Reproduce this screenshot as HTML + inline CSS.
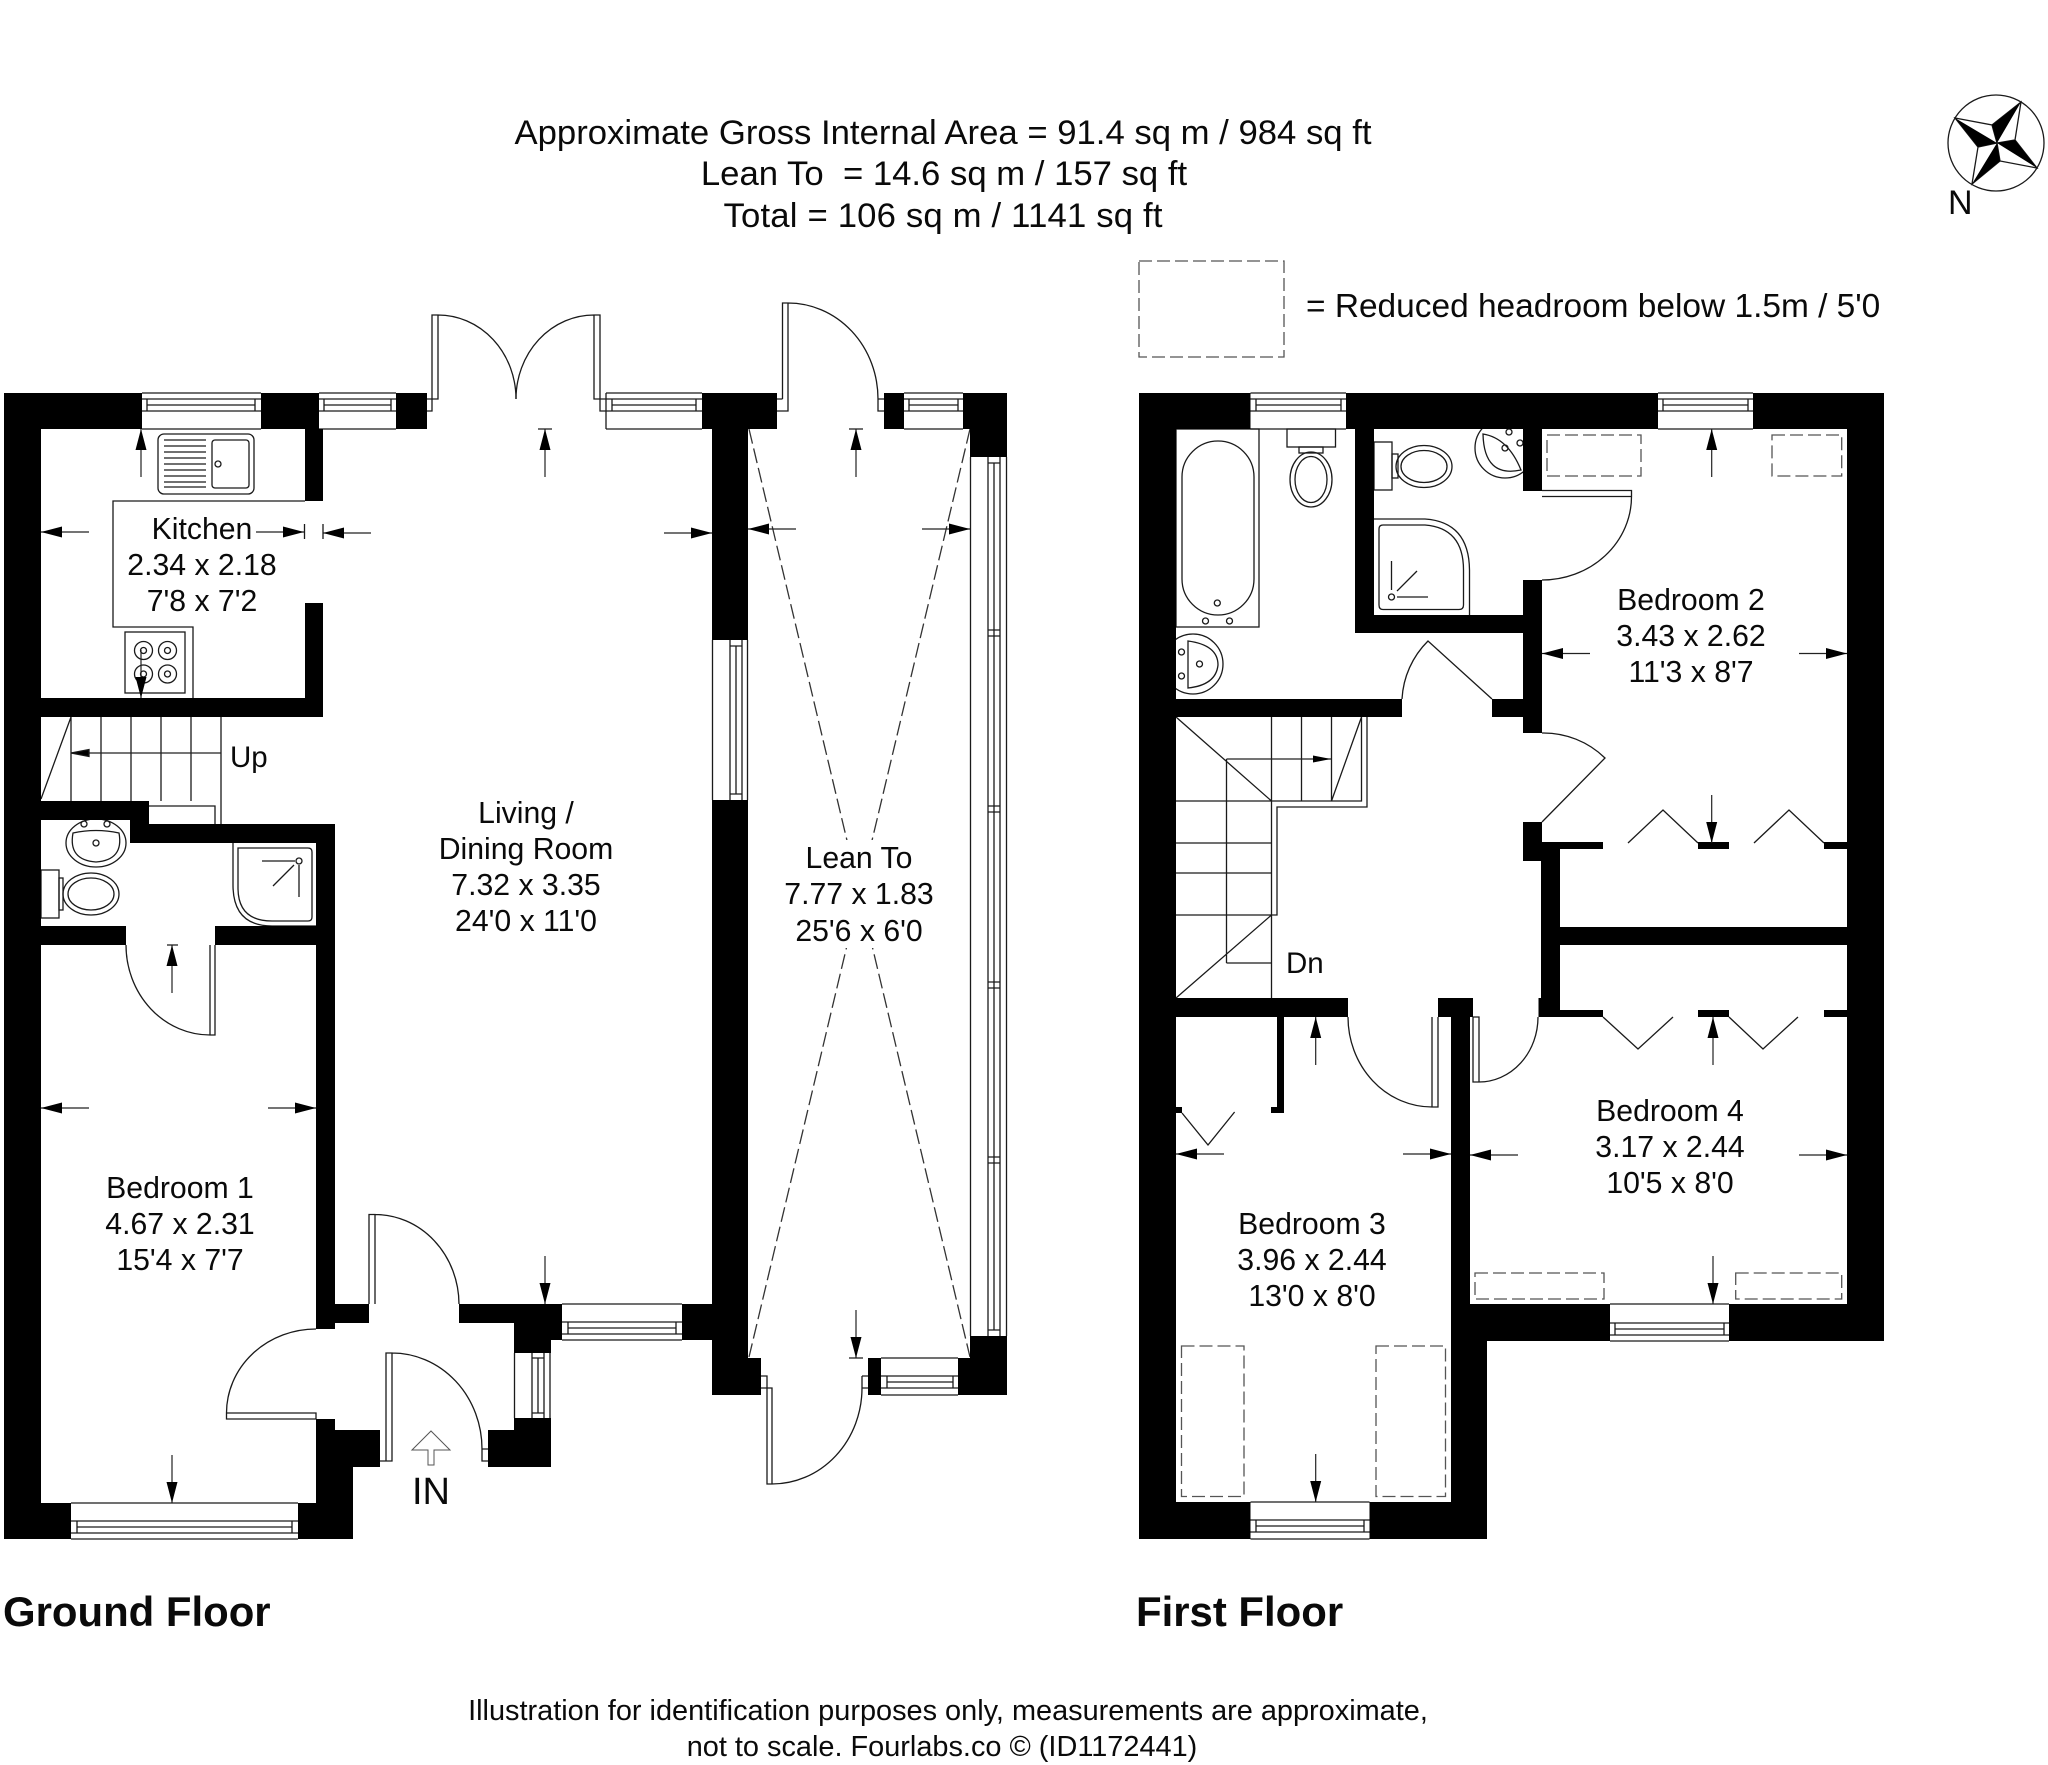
<!DOCTYPE html>
<html lang="en"><head><meta charset="utf-8"><title>Floor plan</title>
<style>
html,body{margin:0;padding:0;background:#fff}
svg{display:block}
text{font-family:"Liberation Sans",sans-serif;fill:#0a0a0a;white-space:pre}
.r{font-size:30.2px;text-anchor:middle}
.t{font-size:34.7px;text-anchor:middle}
.f{font-size:28.9px;text-anchor:middle}
.b{font-size:41.9px;font-weight:700}
.l{fill:none;stroke:#1a1a1a;stroke-width:1.3}
.a{fill:none;stroke:#222;stroke-width:1.2}
.d{fill:none;stroke:#555;stroke-width:1.3;stroke-dasharray:13 5}
</style></head><body>
<svg xmlns="http://www.w3.org/2000/svg" width="2048" height="1765" viewBox="0 0 2048 1765">
<defs>
<g id="ar"><path d="M0 0H-48" fill="none" stroke="#222" stroke-width="1.2"/><path d="M0 0L-21 -5.5V5.5Z" fill="#000"/></g>
</defs>
<rect width="2048" height="1765" fill="#fff"/>

<!-- titles -->
<text class="t" x="943" y="144">Approximate Gross Internal Area = 91.4 sq m / 984 sq ft</text>
<text class="t" x="944" y="185">Lean To  = 14.6 sq m / 157 sq ft</text>
<text class="t" x="943" y="227" textLength="439" lengthAdjust="spacing">Total = 106 sq m / 1141 sq ft</text>
<rect class="d" x="1139" y="261" width="145" height="96"/>
<text x="1306" y="317" style="font-size:33.45px">= Reduced headroom below 1.5m / 5'0</text>

<!-- compass -->
<circle class="l" cx="1996" cy="143" r="48"/>
<path class="l" d="M2021 102L2015 140L1997 143L1992 125ZM1955 118L1992 125L1997 143L1978 147ZM2037 168L2000 161L1997 143L2015 140ZM1972 184L1978 147L1997 143L2000 161Z"/>
<path fill="#000" d="M2021 102L1997 143L1992 125ZM1955 118L1997 143L1978 147ZM2037 168L1997 143L2015 140ZM1972 184L1997 143L2000 161Z"/>
<text x="1948" y="214" style="font-size:34px">N</text>

<!-- fixtures ground floor -->
<g class="l">
<path class="l" d="M305 501H113V627H193V698"/>
<rect class="l" x="158" y="434" width="96" height="60" rx="6"/>
<rect class="l" x="212" y="440" width="37" height="48" rx="3"/>
<circle class="l" cx="218" cy="464" r="3"/>
<path class="l" d="M164 440H206M164 446H206M164 452H206M164 458H206M164 464H206M164 470H206M164 476H206M164 482H206M164 487H206"/>
<rect class="l" x="125" y="632" width="60" height="61"/>
<circle class="l" cx="143.5" cy="650.5" r="9"/><circle class="l" cx="143.5" cy="650.5" r="3"/>
<circle class="l" cx="167.5" cy="650.5" r="9"/><circle class="l" cx="167.5" cy="650.5" r="3"/>
<circle class="l" cx="143.5" cy="674" r="9"/><circle class="l" cx="143.5" cy="674" r="3"/>
<circle class="l" cx="167.5" cy="674" r="9"/><circle class="l" cx="167.5" cy="674" r="3"/>
<!-- stairs up -->
<path class="l" d="M71 717V801M101 717V801M131 717V801M161 717V801M191 717V801M221 717V824M149 806H215V824M71 717L41 799"/>
<path class="a" d="M221 753H71"/><path fill="#000" d="M71 753L89 749.5V756.5Z"/>
<!-- ensuite GF -->
<ellipse class="l" cx="96" cy="843" rx="30" ry="24"/>
<path class="l" d="M73 833Q96 828 119 833Q124 860 96 862Q68 860 73 833Z"/>
<circle class="l" cx="84" cy="824" r="3"/><circle class="l" cx="107" cy="824" r="3"/><circle class="l" cx="96" cy="843" r="3"/>
<rect class="l" x="41" y="870" width="18" height="48"/>
<rect class="l" x="59" y="878" width="4" height="32"/>
<ellipse class="l" cx="91" cy="894" rx="28" ry="21"/><ellipse class="l" cx="91" cy="894" rx="23" ry="16"/>
<path class="l" d="M233 843V885Q233 926 272 926H316M238 848H308Q312 848 312 852V917Q312 921 308 921H272Q238 921 238 888Z"/>
<circle class="l" cx="299" cy="861" r="3"/>
<path class="l" d="M299 865V897M262 861H295M273 886L294 865"/>
</g>

<!-- first floor fixtures -->
<g>
<rect class="l" x="1176" y="429" width="83" height="198"/>
<rect class="l" x="1182" y="441" width="72" height="174" rx="36"/>
<circle class="l" cx="1217.3" cy="603" r="3"/><circle class="l" cx="1205.5" cy="621" r="3"/><circle class="l" cx="1229.5" cy="621" r="3"/>
<circle class="l" cx="1193" cy="664" r="30"/>
<path class="l" d="M1188 641Q1218 645 1218 665Q1216 685 1188 688Z"/>
<circle class="l" cx="1181.5" cy="652" r="3"/><circle class="l" cx="1181.5" cy="676" r="3"/><circle class="l" cx="1199.5" cy="664" r="3"/>
<rect class="l" x="1287" y="429" width="48.5" height="18"/><rect class="l" x="1299" y="447" width="24" height="6"/>
<ellipse class="l" cx="1311" cy="479.5" rx="21" ry="27.5"/><ellipse class="l" cx="1311" cy="479.5" rx="16" ry="23"/>
<rect class="l" x="1374" y="442" width="18" height="48"/><rect class="l" x="1392" y="454" width="6" height="24"/>
<ellipse class="l" cx="1424" cy="466.5" rx="28" ry="21"/><ellipse class="l" cx="1424" cy="466.5" rx="23" ry="16"/>
<circle class="l" cx="1505" cy="448" r="30"/>
<path class="l" d="M1483 434Q1508 438 1521 470Q1484 478 1483 434Z"/>
<circle class="l" cx="1509" cy="432" r="3"/><circle class="l" cx="1520" cy="443" r="3"/><circle class="l" cx="1505" cy="448" r="3"/>
<path class="l" d="M1374 519H1425Q1469 522 1469.5 570V615M1383 525H1425Q1463.5 528 1463.5 570V605Q1463.5 609.5 1459 609.5H1383Q1379 609.5 1379 605V529Q1379 525 1383 525Z"/>
<circle class="l" cx="1391.5" cy="597" r="3"/>
<path class="l" d="M1391.5 561V590M1397 597H1428M1397 591L1417 571"/>
<!-- stairs -->
<path class="l" d="M1271.5 717V998M1301.5 717V801M1331.5 717V801M1361.5 717V801H1176M1367 717V807H1277V915H1271.5M1176 717L1271.5 801M1361.5 717L1331.5 801M1176 843H1271.5M1176 873H1271.5M1176 915H1271.5M1226.5 963H1271.5M1226.5 759V963M1271.5 915L1176 998"/>
<path class="a" d="M1226.5 759H1331"/><path fill="#000" d="M1331 759L1313 755.5V762.5Z"/>
<!-- dashed -->
<rect class="d" x="1547" y="435" width="94" height="41"/>
<rect class="d" x="1772" y="435" width="69.7" height="41"/>
<rect class="d" x="1181.5" y="1346" width="62.5" height="150.5"/>
<rect class="d" x="1376" y="1346" width="69.5" height="150.5"/>
<rect class="d" x="1475" y="1273" width="129" height="26"/>
<rect class="d" x="1735.7" y="1273" width="106" height="26"/>
</g>

<!-- X dashed lean-to, broken around the label -->
<path class="d" style="stroke-dasharray:15 5;stroke:#333" d="M749 429L970 1357M970 429L749 1357"/>
<rect x="790" y="840" width="140" height="108" fill="#fff"/>

<!-- windows -->
<g>
<path class="l" d="M142 393H261M142 429H261M142 399H261M147 405H255M142 411H261M147 399V411M255 399V411"/>
<path class="l" d="M319 393H396M319 429H396M319 399H396M324 405H391M319 411H396M324 399V411M391 399V411"/>
<path class="l" d="M606 393H702M606 429H702M606 393V429M606 399H702M612 405H696M606 411H702M612 399V411M696 399V411"/>
<path class="l" d="M904 393H963M904 429H963M904 399H963M909 405H958M904 411H963M909 399V411M958 399V411"/>
<path class="l" d="M71 1503H298M71 1539H298M71 1521H298M77 1527H292M71 1533H298M77 1521V1533M292 1521V1533"/>
<path class="l" d="M562 1304H682M562 1340H682M562 1322H682M568 1328H676M562 1334H682M568 1322V1334M676 1322V1334"/>
<path class="l" d="M881 1358H958M881 1395H958M881 1376H958M887 1382H953M881 1388H958M887 1376V1388M953 1376V1388"/>
<path class="l" d="M1250.5 393H1346M1250.5 429H1346M1250.5 399H1346M1256 405H1341M1250.5 411H1346M1256 399V411M1341 399V411"/>
<path class="l" d="M1658 393H1753M1658 429H1753M1658 399H1753M1663 405H1748M1658 411H1753M1663 399V411M1748 399V411"/>
<path class="l" d="M1250.5 1502H1369.5M1250.5 1539H1369.5M1250.5 1520H1369.5M1256 1526H1364M1250.5 1532H1369.5M1256 1520V1532M1364 1520V1532"/>
<path class="l" d="M1610 1304H1729M1610 1341H1729M1610 1323H1729M1615 1329H1724M1610 1335H1729M1615 1323V1335M1724 1323V1335"/>
<path class="l" d="M712.5 640V800M747.5 640V800M730 640V800M736 646V794M742 640V800M730 646H742M730 794H742"/>
<path class="l" d="M514.5 1353V1418M550 1353V1418M532 1353V1418M538 1358V1413M544 1353V1418M532 1358H544M532 1413H544"/>
<path class="l" d="M970.5 457V1336M1006.5 457V1336M988 457V1336M994 463V1330M1000 457V1336M988 463H1000M988 1330H1000M988 630H1000M988 636H1000M988 806H1000M988 812H1000M988 982H1000M988 988H1000M988 1157H1000M988 1163H1000"/>
</g>

<!-- doors -->
<g>
<path class="l" d="M516 399A78 84 0 0 1 594 315H600V411H606M594 315V399H606"/>
<path class="l" d="M516 399A78 84 0 0 0 438 315H432V411H427M438 315V399H427"/>
<path class="l" d="M878 399A90 96 0 0 0 788 303H782.5V399M788 303V411H777M782.5 399H777M878 399V411H884M878 399H884"/>
<path class="l" d="M215 945V1035H210V945M210 1035A84 90 0 0 1 126 945"/>
<path class="l" d="M369 1304V1214.5H375V1304M375 1214.5A84 90 0 0 1 459 1304"/>
<path class="l" d="M316 1419V1413H226.5V1419H316M226.5 1413A89.5 84 0 0 1 316 1329"/>
<path class="l" d="M380 1461H392V1353H386V1461M392 1353A90 96 0 0 1 482 1449M482 1449V1461H488M482 1449H488"/>
<path class="l" d="M761 1376H767V1484H772V1388H761M772 1484A90 96 0 0 0 862 1388M862 1376V1388H868M862 1376H868"/>
<path class="l" d="M1402 699A88 88 0 0 1 1428 641L1492 699"/>
<path class="l" d="M1542 733A88 88 0 0 1 1605 758L1542 822"/>
<path class="l" d="M1542 490.5H1631.5V496.5H1542M1631.5 496.5A89.5 83.5 0 0 1 1542 580"/>
<path class="l" d="M1348 1017A84 90 0 0 0 1432 1107H1438V1017M1432 1107V1017"/>
<path class="l" d="M1473 1017H1479V1082H1473V1017M1479 1082A59 65 0 0 0 1538 1017"/>
<path class="l" d="M1603 1017L1638 1049L1673 1017M1729 1017L1763 1049L1798 1017"/>
<path class="l" d="M1628 843L1663 810L1698 843M1754 843L1789 810L1824 843"/>
<path class="l" d="M1182 1113L1208 1145L1234.6 1112"/>
</g>

<!-- walls -->
<path fill="#000" d="M4 393H142V429H4ZM261 393H319V429H261ZM396 393H427V429H396ZM4 429H41V1539H4ZM4 1503H71V1539H4ZM305 429H323V501H305ZM305 603H323V717H305ZM41 698H323V717H41ZM41 801H149V820H41ZM130 820H149V843H130ZM130 824H335V843H130ZM316 843H335V1329H316ZM41 926H126V945H41ZM215 926H335V945H215ZM335 1304H369V1323H335ZM459 1304H562V1323H459ZM514 1323H562V1340H514ZM514 1340H551V1353H514ZM514 1418H551V1467H514ZM488 1430H551V1467H488ZM316 1419H335V1430H316ZM316 1430H380V1467H316ZM316 1467H353V1539H316ZM298 1503H353V1539H298ZM702 393H777V429H702ZM712 429H748V640H712ZM712 800H748V1395H712ZM682 1304H712V1340H682ZM712 1358H761V1395H712ZM884 393H904V429H884ZM963 393H1007V429H963ZM970 429H1007V457H970ZM868 1358H881V1395H868ZM958 1358H1007V1395H958ZM970 1336H1007V1358H970Z"/>
<path fill="#000" d="M1139 393H1250.5V429H1139ZM1346 393H1658V429H1346ZM1753 393H1884V429H1753ZM1139 429H1176V1539H1139ZM1139 1502H1250.5V1539H1139ZM1369.5 1502H1487V1539H1369.5ZM1451 1017H1470V1304H1451ZM1451 1304H1487V1539H1451ZM1451 1304H1610V1341H1451ZM1729 1304H1884V1341H1729ZM1847 429H1884V1304H1847ZM1355 429H1374V633H1355ZM1355 615H1523V633H1355ZM1523 429H1542V491H1523ZM1523 580H1542V733H1523ZM1523 822H1542V861H1523ZM1139 699H1402V717H1139ZM1492 699H1523V717H1492ZM1139 998H1348V1017H1139ZM1438 998H1473V1017H1438ZM1541 842H1603V849H1541ZM1698 842H1729V849H1698ZM1824 842H1847V849H1824ZM1541 849H1560V1017H1541ZM1541 927H1884V945H1541ZM1538.5 998H1560V1017H1538.5ZM1560 1010H1603V1017H1560ZM1698 1010H1729V1017H1698ZM1824 1010H1847V1017H1824ZM1277 1017H1284V1113H1277ZM1271 1107H1284V1113H1271ZM1176 1107H1182V1113H1176Z"/>

<!-- arrows -->
<use href="#ar" transform="translate(41 532) rotate(180)"/>
<use href="#ar" transform="translate(304 532)"/>
<use href="#ar" transform="translate(323 533) rotate(180)"/>
<use href="#ar" transform="translate(712 533)"/>
<use href="#ar" transform="translate(748 529) rotate(180)"/>
<use href="#ar" transform="translate(970 529)"/>
<use href="#ar" transform="translate(41 1108) rotate(180)"/>
<use href="#ar" transform="translate(316 1108)"/>
<use href="#ar" transform="translate(1542 653.5) rotate(180)"/>
<use href="#ar" transform="translate(1847 653.5)"/>
<use href="#ar" transform="translate(1176 1154) rotate(180)"/>
<use href="#ar" transform="translate(1451 1154)"/>
<use href="#ar" transform="translate(1470 1155) rotate(180)"/>
<use href="#ar" transform="translate(1847 1155)"/>
<use href="#ar" transform="translate(141 429) rotate(-90)"/>
<use href="#ar" transform="translate(141 698) rotate(90)"/>
<use href="#ar" transform="translate(545 429) rotate(-90)"/>
<use href="#ar" transform="translate(856 429) rotate(-90)"/>
<use href="#ar" transform="translate(545 1304) rotate(90)"/>
<use href="#ar" transform="translate(856 1358) rotate(90)"/>
<use href="#ar" transform="translate(172 945) rotate(-90)"/>
<use href="#ar" transform="translate(172 1503) rotate(90)"/>
<use href="#ar" transform="translate(1711.7 429) rotate(-90)"/>
<use href="#ar" transform="translate(1711.7 843) rotate(90)"/>
<use href="#ar" transform="translate(1713 1017) rotate(-90)"/>
<use href="#ar" transform="translate(1713 1304) rotate(90)"/>
<use href="#ar" transform="translate(1315.7 1017) rotate(-90)"/>
<use href="#ar" transform="translate(1315.7 1502) rotate(90)"/>
<path class="l" d="M304.5 524V539M323 524V539M538 429H552M849 429H863M849 1358H863M167 945H178"/>

<!-- IN arrow -->
<path fill="none" stroke="#555" stroke-width="1" d="M412 1450L431 1431L450 1450H434V1465H428V1450Z"/>
<text x="431" y="1504" style="font-size:38px;text-anchor:middle">IN</text>

<!-- room labels -->
<text class="r" x="202" y="539">Kitchen</text><text class="r" x="202" y="575">2.34 x 2.18</text><text class="r" x="202" y="611">7'8 x 7'2</text>
<text x="230" y="767" style="font-size:29.5px">Up</text>
<text class="r" x="180" y="1198">Bedroom 1</text><text class="r" x="180" y="1234">4.67 x 2.31</text><text class="r" x="180" y="1270">15'4 x 7'7</text>
<text class="r" x="526" y="823">Living /</text><text class="r" x="526" y="859">Dining Room</text><text class="r" x="526" y="895">7.32 x 3.35</text><text class="r" x="526" y="931">24'0 x 11'0</text>
<text class="r" x="859" y="868">Lean To</text><text class="r" x="859" y="904">7.77 x 1.83</text><text class="r" x="859" y="941">25'6 x 6'0</text>
<text class="r" x="1691" y="610">Bedroom 2</text><text class="r" x="1691" y="646">3.43 x 2.62</text><text class="r" x="1691" y="682">11'3 x 8'7</text>
<text class="r" x="1312" y="1234">Bedroom 3</text><text class="r" x="1312" y="1270">3.96 x 2.44</text><text class="r" x="1312" y="1306">13'0 x 8'0</text>
<text class="r" x="1670" y="1121">Bedroom 4</text><text class="r" x="1670" y="1157">3.17 x 2.44</text><text class="r" x="1670" y="1193">10'5 x 8'0</text>
<text x="1286" y="973" style="font-size:29.5px">Dn</text>

<text class="b" x="3" y="1626">Ground Floor</text>
<text class="b" x="1136" y="1626">First Floor</text>
<text class="f" x="948" y="1720">Illustration for identification purposes only, measurements are approximate,</text>
<text class="f" x="942" y="1756">not to scale. Fourlabs.co © (ID1172441)</text>
</svg>
</body></html>
